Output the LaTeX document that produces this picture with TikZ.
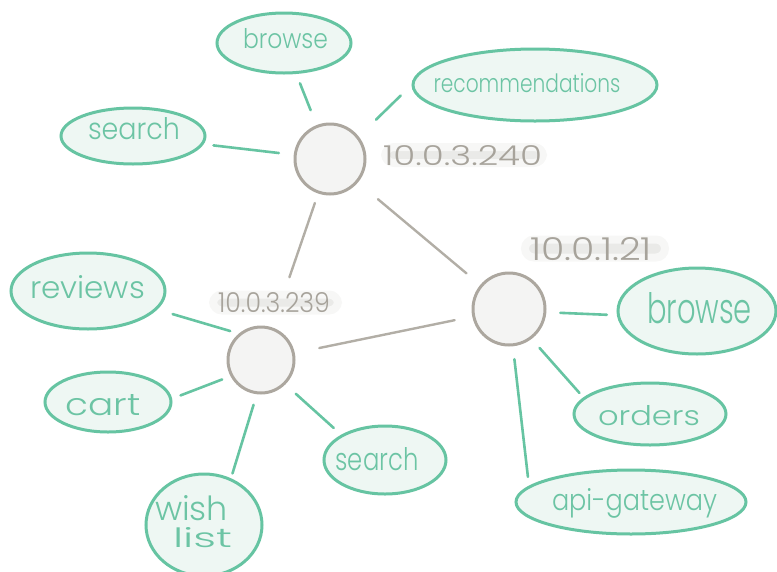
\documentclass[tikz,border=0pt]{standalone}
\usepackage{fontspec}
\setmainfont{Poppins}[UprightFont=* Light]
\usepackage{graphicx}
\usetikzlibrary{shapes.geometric}
\definecolor{gstroke}{HTML}{66C4A2}
\definecolor{gtext}{HTML}{6CC4A4}
\definecolor{gfill}{HTML}{EEF7F3}
\definecolor{cstroke}{HTML}{ACA79F}
\definecolor{cfill}{HTML}{F4F4F3}
\definecolor{lstroke}{HTML}{B2AEA6}
\definecolor{labtext}{HTML}{A7A39B}
\definecolor{labbg}{HTML}{EAEAE8}
% text placed at node centre: dx, raise, width, height, text
\newcommand\hw[5]{\makebox[0pt][l]{\kern\dimexpr#1-#3/2\relax\raisebox{#2}[0pt][0pt]{\resizebox{#3}{#4}{#5}}}}
\tikzset{
  svc/.style={ellipse, draw=gstroke, fill=gfill, line width=3pt, inner sep=0pt, text=gtext},
  host/.style={circle, draw=cstroke, fill=cfill, line width=3pt, inner sep=0pt},
  gline/.style={draw=gstroke, line width=2.6pt, line cap=round},
  grayline/.style={draw=lstroke, line width=2.4pt, line cap=round},
  lab/.style={rectangle, rounded corners=9pt, fill=labbg, draw=labbg!40!white, line width=8pt, inner sep=0pt, text=labtext}
}
\begin{document}
\begin{tikzpicture}[x=1pt,y=-1pt]
\useasboundingbox (0,0) rectangle (777,571);
% hosts
\node[host, minimum size=70pt] (T) at (330,159) {};
\node[host, minimum size=66pt] (M) at (261,360) {};
\node[host, minimum size=72pt] (RC) at (509,309) {};
% host labels
\node[lab, minimum width=158pt, minimum height=16pt] (L1) at (464,155) {\hw{-1.5pt}{-10pt}{159pt}{20pt}{10.0.3.240}};
\node[lab, minimum width=140pt, minimum height=18pt] (L2) at (595,248.5) {\hw{-4pt}{-11.5pt}{122pt}{23pt}{10.0.1.21}};
\node[lab, minimum width=125pt, minimum height=16pt] (L3) at (275.5,302.5) {\hw{-1.5pt}{-9.5pt}{112pt}{20pt}{10.0.3.239}};
% services
\node[svc, minimum width=134pt, minimum height=60pt] (bT) at (284,43) {\hw{1.5pt}{-5pt}{85pt}{20pt}{browse}};
\node[svc, minimum width=144pt, minimum height=56pt] (sT) at (133,136) {\hw{1pt}{-3pt}{92pt}{22pt}{search}};
\node[svc, minimum width=244pt, minimum height=72pt] (rec) at (535,85) {\hw{-8pt}{-7pt}{187pt}{19pt}{recommendations}};
\node[svc, minimum width=154pt, minimum height=76pt] (rev) at (88,291) {\hw{-0.5pt}{-7pt}{115pt}{23pt}{reviews}};
\node[svc, minimum width=126pt, minimum height=60pt] (cart) at (108,402) {\hw{-5pt}{-13pt}{75pt}{21pt}{cart}};
\node[svc, minimum width=116pt, minimum height=102pt] (wish) at (204,525) {\hw{-12.5pt}{5pt}{73pt}{25pt}{wish}\hw{-1.5pt}{-22pt}{59pt}{20pt}{list}};
\node[svc, minimum width=122pt, minimum height=68pt] (sB) at (385,460) {\hw{-8pt}{-10pt}{83pt}{23pt}{search}};
\node[svc, minimum width=158pt, minimum height=86pt] (bR) at (697,311) {\hw{2.5pt}{-12pt}{105pt}{31pt}{browse}};
\node[svc, minimum width=152pt, minimum height=62pt] (ord) at (650,414) {\hw{-1pt}{-11pt}{102pt}{20pt}{orders}};
\node[svc, minimum width=230pt, minimum height=64pt] (api) at (631,502) {\hw{3.5pt}{-8pt}{165pt}{22pt}{api-gateway}};
% host to host
\draw[grayline, shorten <=10pt, shorten >=53pt] (T) -- (M);
\draw[grayline, shorten <=26pt, shorten >=18pt] (T) -- (RC);
\draw[grayline, shorten <=25pt, shorten >=18pt] (M) -- (RC);
% top host
\draw[gline, shorten <=16pt, shorten >=10pt] (T) -- (bT);
\draw[gline, shorten <=15pt, shorten >=10pt] (T) -- (sT);
\draw[gline, shorten <=24pt, shorten >=15pt] (T.38) -- (rec.180);
% right host
\draw[gline, shorten <=14pt, shorten >=10pt] (RC.-5) -- (bR.183);
\draw[gline, shorten <=12pt, shorten >=6pt] (RC.-53) -- (ord.166);
\draw[gline, shorten <=13pt, shorten >=9pt] (RC.-84) -- (api.171);
% middle host
\draw[gline, shorten <=9pt, shorten >=16pt] (M.130) -- (rev.-15);
\draw[gline, shorten <=9pt, shorten >=9pt] (M.208) -- (cart.3);
\draw[gline, shorten <=11pt, shorten >=5pt] (M.-97) -- (wish.60);
\draw[gline, shorten <=14pt, shorten >=10pt] (M.-45) -- (sB.150);
\end{tikzpicture}
\end{document}
